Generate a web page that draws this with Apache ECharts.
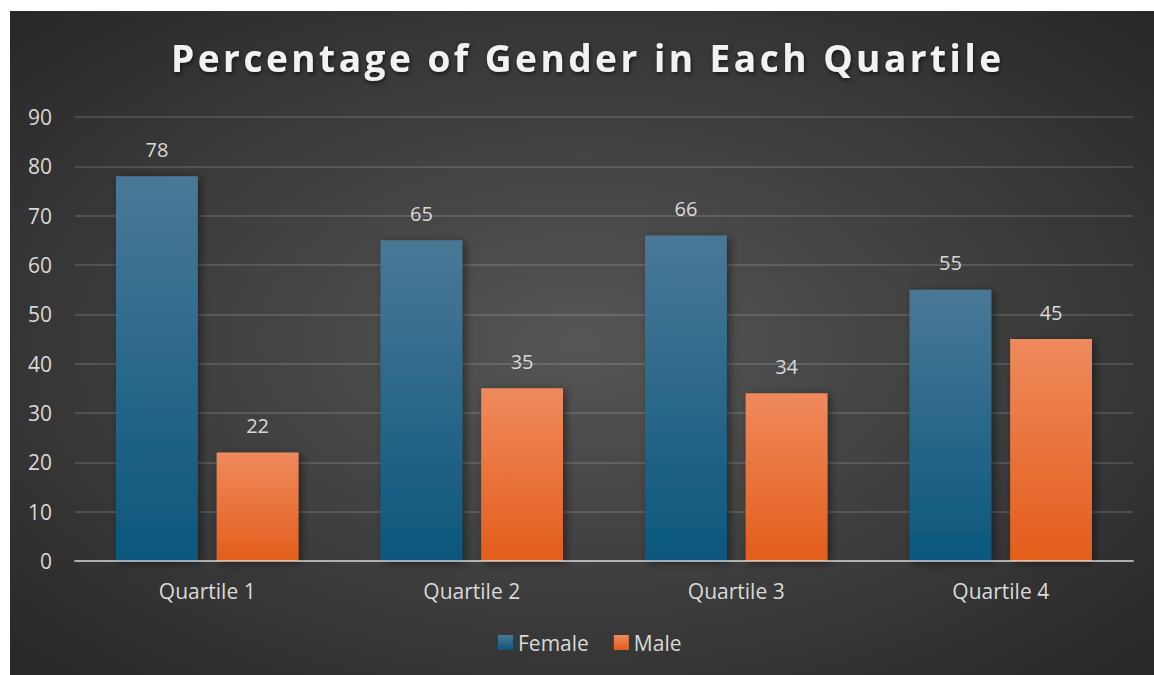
<!DOCTYPE html>
<html>
<head>
<meta charset="utf-8">
<script src="https://cdn.jsdelivr.net/npm/echarts@6/dist/echarts.min.js"></script>
<style>
  html, body { margin: 0; padding: 0; background: #ffffff; }
  #chart { position: absolute; left: 10px; top: 11px; width: 1144px; height: 664px; }
  #chart text[style*="bold"] { letter-spacing: 3.5px; }
</style>
</head>
<body>
<div id="chart"></div>
<script>
const titleText = 'Percentage of Gender in Each Quartile';
const categories = ['Quartile 1', 'Quartile 2', 'Quartile 3', 'Quartile 4'];
const femaleValues = [78, 65, 66, 55];
const maleValues = [22, 35, 34, 45];
const seriesNames = ['Female', 'Male'];

const chart = echarts.init(document.getElementById('chart'), null, { renderer: 'svg' });

function grad(top, bottom) {
  return new echarts.graphic.LinearGradient(0, 0, 0, 1, [
    { offset: 0, color: top },
    { offset: 1, color: bottom }
  ]);
}

const labelStyle = {
  show: true,
  position: 'top',
  distance: 17,
  color: '#d9d9d9',
  fontSize: 20,
  fontFamily: 'Open Sans'
};

chart.setOption({
  backgroundColor: {
    type: 'radial', x: 0.5, y: 0.5, r: 0.75,
    colorStops: [
      { offset: 0, color: '#565656' },
      { offset: 1, color: '#242424' }
    ]
  },
  title: {
    text: titleText,
    left: 156,
    top: 23,
    padding: 5,
    textStyle: {
      color: '#f2f2f2',
      fontSize: 37,
      fontWeight: 'bold',
      fontFamily: 'Open Sans',
      textShadowColor: 'rgba(0,0,0,0.6)',
      textShadowBlur: 4,
      textShadowOffsetX: 1,
      textShadowOffsetY: 2
    }
  },
  legend: {
    data: seriesNames,
    bottom: 17,
    left: 483,
    icon: 'rect',
    itemWidth: 15,
    itemHeight: 15,
    itemGap: 25,
    itemTextGap: 6,
    padding: 5,
    textStyle: { color: '#d9d9d9', fontSize: 21, fontFamily: 'Open Sans' }
  },
  grid: { left: 65, right: 21, top: 106, bottom: 114 },
  xAxis: {
    type: 'category',
    data: categories,
    z: 5,
    axisLine: { show: true, lineStyle: { color: 'rgba(255,255,255,0.55)', width: 2 } },
    axisTick: { show: false },
    axisLabel: { color: '#d9d9d9', fontSize: 21, margin: 19, fontFamily: 'Open Sans' }
  },
  yAxis: {
    type: 'value',
    min: 0, max: 90, interval: 10,
    axisLine: { show: false },
    axisTick: { show: false },
    axisLabel: { color: '#d9d9d9', fontSize: 21, margin: 23, fontFamily: 'Open Sans' },
    splitLine: { lineStyle: { color: 'rgba(255,255,255,0.13)', width: 2 } }
  },
  series: [
    {
      name: seriesNames[0],
      type: 'bar',
      data: femaleValues,
      barGap: '23%',
      barCategoryGap: '31%',
      itemStyle: {
        color: grad('#4a7897', '#0b577d'),
        shadowColor: 'rgba(0,0,0,0.45)',
        shadowBlur: 8,
        shadowOffsetX: 3,
        shadowOffsetY: 2
      },
      label: labelStyle
    },
    {
      name: seriesNames[1],
      type: 'bar',
      data: maleValues,
      itemStyle: {
        color: grad('#ef8a5d', '#e35d1b'),
        shadowColor: 'rgba(0,0,0,0.45)',
        shadowBlur: 8,
        shadowOffsetX: 3,
        shadowOffsetY: 2
      },
      label: labelStyle
    }
  ]
});
</script>
</body>
</html>
